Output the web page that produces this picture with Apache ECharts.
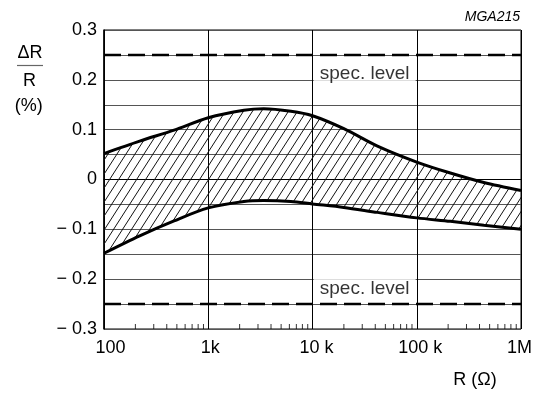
<!DOCTYPE html>
<html><head><meta charset="utf-8">
<script src="https://cdn.jsdelivr.net/npm/echarts@6/dist/echarts.min.js"></script>
<style>html,body{margin:0;padding:0;background:#fff}#c{width:538px;height:394px}</style>
</head><body><div id="c"></div><script>
// ---- data ----
const resistance = [100, 220, 470, 1000, 2200, 3400, 6200, 10000, 20000, 42000, 100000, 210000, 440000, 1000000];
const upperLimit = [0.052, 0.077, 0.099, 0.124, 0.139, 0.142, 0.137, 0.128, 0.102, 0.067, 0.035, 0.013, -0.006, -0.022];
const lowerLimit = [-0.148, -0.113, -0.083, -0.057, -0.044, -0.042, -0.044, -0.049, -0.056, -0.066, -0.077, -0.084, -0.092, -0.100];
const specLevels = [0.25, -0.25];
const specLabel = 'spec. level';
const xTickLabels = {2: '100', 3: '1k', 4: '10 k', 5: '100 k', 6: '1M'};
const minorTickValues = [200, 300, 400, 500, 600, 700, 800, 900,
  2000, 3000, 4000, 5000, 6000, 7000, 8000, 9000,
  20000, 30000, 40000, 50000, 60000, 70000, 80000, 90000,
  200000, 300000, 400000, 500000, 600000, 700000, 800000, 900000];

const FONT = "'Liberation Sans', Arial, Helvetica, sans-serif";

function hatch() {
  const w = 9, h = 14;
  const c = document.createElement('canvas');
  c.width = w; c.height = h;
  const g = c.getContext('2d');
  g.strokeStyle = '#111'; g.lineWidth = 1;
  for (const dy of [-h, 0, h]) {
    g.beginPath(); g.moveTo(-w, 2 * h + dy); g.lineTo(2 * w, -h + dy); g.stroke();
  }
  return c;
}

// value first so the stack runs on the y dimension; encode maps columns to axes
const lowerData = resistance.map((r, i) => [lowerLimit[i], r]);
const bandData = resistance.map((r, i) => [upperLimit[i] - lowerLimit[i], r]);

const chart = echarts.init(document.getElementById('c'), null, {renderer: 'canvas'});
chart.setOption({
  animation: false,
  textStyle: {fontFamily: FONT},
  grid: {left: 104, right: 17, top: 30, bottom: 65, show: true, borderColor: '#000', borderWidth: 1},
  xAxis: {
    type: 'log', logBase: 10, min: 100, max: 1000000,
    axisLine: {show: true, lineStyle: {color: '#000', width: 1}},
    axisTick: {show: false},
    splitLine: {show: true, lineStyle: {color: '#000', width: 1}},
    axisLabel: {
      color: '#000', fontSize: 18, fontFamily: FONT, margin: 10,
      formatter: v => { const e = Math.round(Math.log10(v)); return '{l' + e + '|' + (xTickLabels[e] || '') + '}'; },
      rich: {
        l2: {fontSize: 18, fontFamily: FONT, color: '#000', padding: [0, 0, 0, 13]},
        l3: {fontSize: 18, fontFamily: FONT, color: '#000', padding: [0, 0, 0, 4]},
        l4: {fontSize: 18, fontFamily: FONT, color: '#000', padding: [0, 0, 0, 8]},
        l5: {fontSize: 18, fontFamily: FONT, color: '#000', padding: [0, 0, 0, 7]},
        l6: {fontSize: 18, fontFamily: FONT, color: '#000', padding: [0, 3, 0, 0]}
      }
    }
  },
  yAxis: {
    type: 'value', min: -0.3, max: 0.3, interval: 0.05,
    axisLine: {show: true, lineStyle: {color: '#000', width: 1.5}},
    axisTick: {show: false},
    splitLine: {show: true, lineStyle: {color: '#555', width: 1}},
    axisLabel: {
      color: '#000', fontSize: 18, fontFamily: FONT, margin: 7, padding: [4, 0, 0, 0],
      formatter: v => {
        const k = Math.round(v * 100);
        if (k % 10 !== 0) return '';
        if (k === 0) return '0';
        const s = (Math.abs(k) / 100).toFixed(1);
        return k < 0 ? '\u2212 ' + s : s;
      }
    }
  },
  series: [
    {
      name: 'lower', type: 'line', data: lowerData, encode: {x: 1, y: 0},
      stack: 'band', stackStrategy: 'all',
      smooth: 0.3, symbol: 'none', lineStyle: {color: '#000', width: 3}, z: 4
    },
    {
      name: 'band', type: 'line', data: bandData, encode: {x: 1, y: 0},
      stack: 'band', stackStrategy: 'all',
      smooth: 0.3, symbol: 'none', lineStyle: {color: '#000', width: 3},
      areaStyle: {color: {image: hatch(), repeat: 'repeat'}, opacity: 1}, z: 3
    },
    {
      name: 'spec', type: 'scatter', symbolSize: 1, itemStyle: {color: 'rgba(0,0,0,0)'}, z: 6,
      data: [
        {value: [31623, 0.2], label: {offset: [0, -6]}},
        {value: [31623, -0.2], label: {offset: [0, 10]}}
      ],
      label: {
        show: true, position: 'inside', formatter: specLabel, color: '#000',
        fontSize: 19, fontFamily: FONT, backgroundColor: '#fff', width: 102, align: 'center',
        lineHeight: 18, padding: [3, 0, 3, 0]
      },
      markLine: {
        silent: true, symbol: ['none', 'none'], label: {show: false},
        lineStyle: {color: '#000', width: 2.4, type: [17, 7]},
        data: specLevels.map(v => ({yAxis: v}))
      }
    },
    {
      name: 'minorTicks', type: 'scatter', symbol: 'rect', symbolSize: [1, 5], symbolOffset: [0, -2.5],
      itemStyle: {color: '#000'}, z: 5,
      data: minorTickValues.map(v => [v, -0.3])
    }
  ],
  graphic: [
    {type: 'text', x: 30, y: 53, style: {text: '\u0394R', font: '18px ' + FONT, fill: '#000', textAlign: 'center', textVerticalAlign: 'middle'}},
    {type: 'line', shape: {x1: 17, y1: 65.5, x2: 43, y2: 65.5}, style: {stroke: '#666', lineWidth: 1.2}},
    {type: 'text', x: 29.5, y: 81, style: {text: 'R', font: '18px ' + FONT, fill: '#000', textAlign: 'center', textVerticalAlign: 'middle'}},
    {type: 'text', x: 28.7, y: 106, style: {text: '(%)', font: '18px ' + FONT, fill: '#000', textAlign: 'center', textVerticalAlign: 'middle'}},
    {type: 'text', x: 520, y: 17.5, style: {text: 'MGA215', font: 'italic 14px ' + FONT, fill: '#000', textAlign: 'right', textVerticalAlign: 'middle'}},
    {type: 'text', x: 475, y: 380, style: {text: 'R (\u03A9)', font: '18px ' + FONT, fill: '#000', textAlign: 'center', textVerticalAlign: 'middle'}}
  ]
});
</script></body></html>
